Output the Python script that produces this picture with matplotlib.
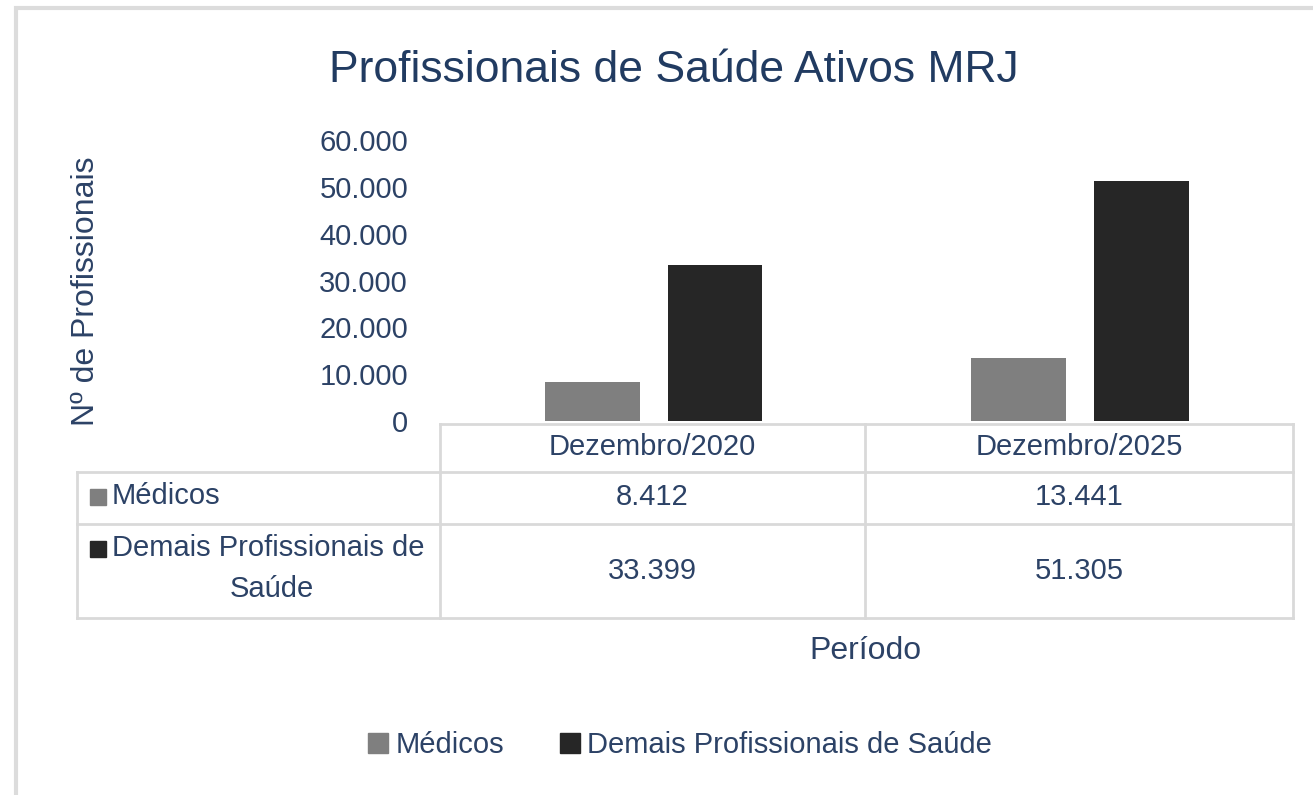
import numpy as np
import matplotlib
matplotlib.use('Agg')
import matplotlib.pyplot as plt
from matplotlib.patches import Rectangle
from matplotlib.lines import Line2D

plt.rcParams['font.family'] = ['Liberation Sans', 'DejaVu Sans']

# data
periodos = ['Dezembro/2020', 'Dezembro/2025']
series = ['Médicos', 'Demais Profissionais de Saúde']
medicos = [8412, 13441]
demais = [33399, 51305]
yticks = [0, 10000, 20000, 30000, 40000, 50000, 60000]

cores = ['#7f7f7f', '#262626']
txt = '#2c4266'
grade = '#d9d9d9'

W, H = 1313, 795
fig = plt.figure(figsize=(W / 100, H / 100), dpi=100)


def fx(x):
    return x / W


def fy(y):
    return 1 - y / H


def fmt(v):
    return f'{v:,}'.replace(',', '.')


# moldura
fig.patches.append(Rectangle((fx(16), fy(H + 20)), fx(W + 40), fy(8) - fy(H + 20),
                             transform=fig.transFigure, fill=False,
                             edgecolor='#dcdcdc', linewidth=3))

x0, x1, ytop, ybot = 440, 1293, 140, 421
ax = fig.add_axes([fx(x0), fy(ybot), fx(x1 - x0), fy(ytop) - fy(ybot)])
x = np.arange(len(periodos))
w = 0.222
ax.bar(x - 0.143, medicos, w, color=cores[0])
ax.bar(x + 0.145, demais, w, color=cores[1])
ax.set_xlim(-0.5, len(periodos) - 0.5)
ax.set_ylim(0, 60000)
ax.set_yticks(yticks)
ax.set_yticklabels([fmt(v) for v in yticks], fontsize=21, color=txt)
ax.tick_params(axis='y', length=0, pad=23)
ax.set_xticks([])
for s in ax.spines.values():
    s.set_visible(False)
ax.patch.set_visible(False)

# titulo e eixos
fig.text(fx(674), fy(70), 'Profissionais de Saúde Ativos MRJ', ha='center', va='center',
         fontsize=32, color='#213b61')
fig.text(fx(86), fy(291), 'Nº de Profissionais', rotation=90, ha='center', va='center',
         fontsize=23, color=txt)
fig.text(fx(865), fy(651), 'Período', ha='center', va='center', fontsize=23, color=txt)

# tabela de dados
cols = [77, 440, 865, 1293]
rows = [424, 472, 524, 618]


def hline(y, xa, xb):
    fig.add_artist(Line2D([fx(xa), fx(xb)], [fy(y), fy(y)], color=grade, lw=2,
                          transform=fig.transFigure))


def vline(xp, ya, yb):
    fig.add_artist(Line2D([fx(xp), fx(xp)], [fy(ya), fy(yb)], color=grade, lw=2,
                          transform=fig.transFigure))


hline(rows[0], cols[1], cols[3])
for r in rows[1:]:
    hline(r, cols[0], cols[3])
vline(cols[0], rows[1], rows[3])
for c in cols[1:]:
    vline(c, rows[0], rows[3])

fs = 21
for i, p in enumerate(periodos):
    cx = (cols[i + 1] + cols[i + 2]) / 2
    fig.text(fx(cx), fy(447), p, ha='center', va='center', fontsize=fs, color=txt)
    fig.text(fx(cx), fy(497), fmt(medicos[i]), ha='center', va='center', fontsize=fs, color=txt)
    fig.text(fx(cx), fy(571), fmt(demais[i]), ha='center', va='center', fontsize=fs, color=txt)

fig.patches.append(Rectangle((fx(90), fy(505)), fx(16), fy(489) - fy(505),
                             transform=fig.transFigure, color=cores[0]))
fig.text(fx(112), fy(496), series[0], ha='left', va='center', fontsize=fs, color=txt)
fig.patches.append(Rectangle((fx(90), fy(557)), fx(16), fy(541) - fy(557),
                             transform=fig.transFigure, color=cores[1]))
fig.text(fx(112), fy(548), 'Demais Profissionais de', ha='left', va='center', fontsize=fs, color=txt)
fig.text(fx(272), fy(589), 'Saúde', ha='center', va='center', fontsize=fs, color=txt)

# legenda
leg = [Rectangle((0, 0), 1, 1, color=c) for c in cores]
fig.legend(leg, series, loc='center', bbox_to_anchor=(fx(680), fy(745)), ncol=2,
           frameon=False, fontsize=21, labelcolor=txt, handlelength=0.7, handleheight=0.7,
           handletextpad=0.25, columnspacing=1.9)

fig.savefig('out.png', dpi=100, facecolor='white')
